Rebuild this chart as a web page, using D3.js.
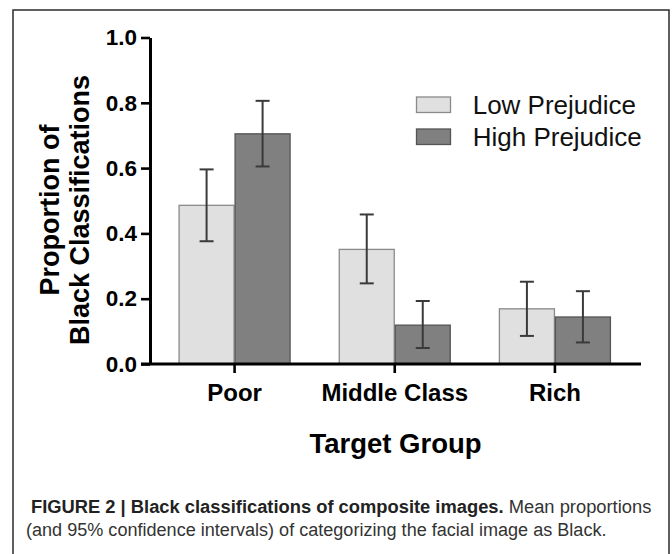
<!DOCTYPE html>
<html>
<head>
<meta charset="utf-8">
<script src="https://cdn.jsdelivr.net/npm/d3@7"></script>
<style>
  html, body { margin: 0; padding: 0; background: #fff; }
  svg { display: block; }
</style>
</head>
<body>
<script>
// ---- data ----
const categories = ["Poor", "Middle Class", "Rich"];
const seriesNames = ["Low Prejudice", "High Prejudice"];
const lowMeans  = [0.486, 0.351, 0.169];
const lowUpper  = [0.596, 0.458, 0.252];
const lowLower  = [0.376, 0.247, 0.086];
const highMeans = [0.705, 0.119, 0.144];
const highUpper = [0.806, 0.193, 0.223];
const highLower = [0.605, 0.049, 0.066];
const yTicks = [0.0, 0.2, 0.4, 0.6, 0.8, 1.0];
const yTitleLines = ["Proportion of", "Black Classifications"];
const xTitle = "Target Group";
const captionBold = "FIGURE 2 | Black classifications of composite images.";
const captionRest1 = " Mean proportions";
const captionLine2 = "(and 95% confidence intervals) of categorizing the facial image as Black.";

const W = 672, H = 554;
const fills = ["#e0e0e0", "#808080"];
const strokes = ["#8a8a8a", "#555555"];
const font = "'Liberation Sans', Arial, sans-serif";

const svg = d3.select("body").append("svg").attr("width", W).attr("height", H);

// frame (open at bottom)
svg.append("path")
  .attr("d", `M13,${H + 2} L13,10 L669,10 L669,${H + 2}`)
  .attr("fill", "none").attr("stroke", "#2b2b2b").attr("stroke-width", 1.5);

const plotLeft = 150, plotRight = 641, plotBottom = 364, plotTop = 37.5;

const y = d3.scaleLinear().domain([0, 1]).range([plotBottom, plotTop]);
const x = d3.scaleBand().domain(categories).range([154.5, 635]).paddingInner(0.3007).paddingOuter(0.15035);
const xs = d3.scaleBand().domain(seriesNames).range([0, x.bandwidth()]);

const rows = categories.map((c, i) => ({
  cat: c,
  vals: [
    { s: seriesNames[0], k: 0, m: lowMeans[i], lo: lowLower[i], hi: lowUpper[i] },
    { s: seriesNames[1], k: 1, m: highMeans[i], lo: highLower[i], hi: highUpper[i] }
  ]
}));

// bars
const g = svg.append("g");
const groups = g.selectAll("g.grp").data(rows).join("g")
  .attr("class", "grp")
  .attr("transform", d => `translate(${x(d.cat)},0)`);

groups.selectAll("rect").data(d => d.vals).join("rect")
  .attr("x", d => xs(d.s) + 0.5)
  .attr("width", xs.bandwidth() - 1)
  .attr("y", d => y(d.m))
  .attr("height", d => y(0) - y(d.m))
  .attr("fill", d => fills[d.k])
  .attr("stroke", d => strokes[d.k])
  .attr("stroke-width", 1.3);

// error bars
const capW = 14;
const eb = groups.selectAll("g.eb").data(d => d.vals).join("g").attr("class", "eb")
  .attr("stroke", "#3a3a3a").attr("stroke-width", 2);
eb.append("line")
  .attr("x1", d => xs(d.s) + xs.bandwidth() / 2).attr("x2", d => xs(d.s) + xs.bandwidth() / 2)
  .attr("y1", d => y(d.hi)).attr("y2", d => y(d.lo));
eb.append("line")
  .attr("x1", d => xs(d.s) + xs.bandwidth() / 2 - capW / 2).attr("x2", d => xs(d.s) + xs.bandwidth() / 2 + capW / 2)
  .attr("y1", d => y(d.hi)).attr("y2", d => y(d.hi));
eb.append("line")
  .attr("x1", d => xs(d.s) + xs.bandwidth() / 2 - capW / 2).attr("x2", d => xs(d.s) + xs.bandwidth() / 2 + capW / 2)
  .attr("y1", d => y(d.lo)).attr("y2", d => y(d.lo));

// y axis
const yAxis = svg.append("g").attr("transform", `translate(${plotLeft},0)`)
  .call(d3.axisLeft(y).tickValues(yTicks).tickFormat(d3.format(".1f")).tickSize(9).tickSizeOuter(0).tickPadding(4));
yAxis.select(".domain").attr("stroke", "#000").attr("stroke-width", 3);
yAxis.selectAll(".tick line").attr("stroke", "#000").attr("stroke-width", 2.6);
yAxis.selectAll(".tick text").attr("font-family", font).attr("font-weight", "bold")
  .attr("font-size", 22.5).attr("fill", "#000");

// x axis
const xAxis = svg.append("g").attr("transform", `translate(0,${plotBottom})`)
  .call(d3.axisBottom(x).tickSize(9).tickSizeOuter(0).tickPadding(10.5));
xAxis.select(".domain").remove();
xAxis.insert("line", ":first-child")
  .attr("x1", plotLeft - 9).attr("x2", plotRight).attr("y1", 0).attr("y2", 0)
  .attr("stroke", "#000").attr("stroke-width", 3);
xAxis.selectAll(".tick line").attr("stroke", "#000").attr("stroke-width", 2.6);
xAxis.selectAll(".tick text").attr("font-family", font).attr("font-weight", "bold")
  .attr("font-size", 24).attr("fill", "#000");

// x title
svg.append("text")
  .attr("x", (plotLeft + plotRight) / 2).attr("y", 453.3)
  .attr("text-anchor", "middle")
  .attr("font-family", font).attr("font-weight", "bold").attr("font-size", 27.5)
  .text(xTitle);

// y title
const yt = svg.append("text")
  .attr("transform", `translate(59,210) rotate(-90)`)
  .attr("text-anchor", "middle")
  .attr("font-family", font).attr("font-weight", "bold").attr("font-size", 27);
yTitleLines.forEach((t, i) => {
  yt.append("tspan").attr("x", 0).attr("y", i * 29.5).text(t);
});

// legend
const leg = svg.append("g").attr("transform", "translate(416,97)");
seriesNames.forEach((s, i) => {
  const row = leg.append("g").attr("transform", `translate(0,${i * 32})`);
  row.append("rect").attr("x", 0.5).attr("y", 0).attr("width", 34).attr("height", 15.5)
    .attr("fill", fills[i]).attr("stroke", strokes[i]).attr("stroke-width", 1.3);
  row.append("text").attr("x", 56.7).attr("y", 17)
    .attr("font-family", font).attr("font-size", 26).attr("fill", "#111").text(s);
});

// caption
function fitText(sel, x0, baseline, targetW) {
  const w = sel.node().getComputedTextLength();
  sel.attr("transform", `translate(${x0},${baseline}) scale(${targetW / w},1)`);
}
const c1 = svg.append("text").attr("x", 0).attr("y", 0)
  .attr("font-family", font).attr("font-size", 19).attr("fill", "#333");
c1.append("tspan").attr("font-weight", "bold").attr("fill", "#222").text(captionBold);
c1.append("tspan").text(captionRest1);
fitText(c1, 31, 513.3, 621);

const c2 = svg.append("text").attr("x", 0).attr("y", 0)
  .attr("font-family", font).attr("font-size", 19).attr("fill", "#333")
  .text(captionLine2);
fitText(c2, 26, 536, 581);
</script>
</body>
</html>
